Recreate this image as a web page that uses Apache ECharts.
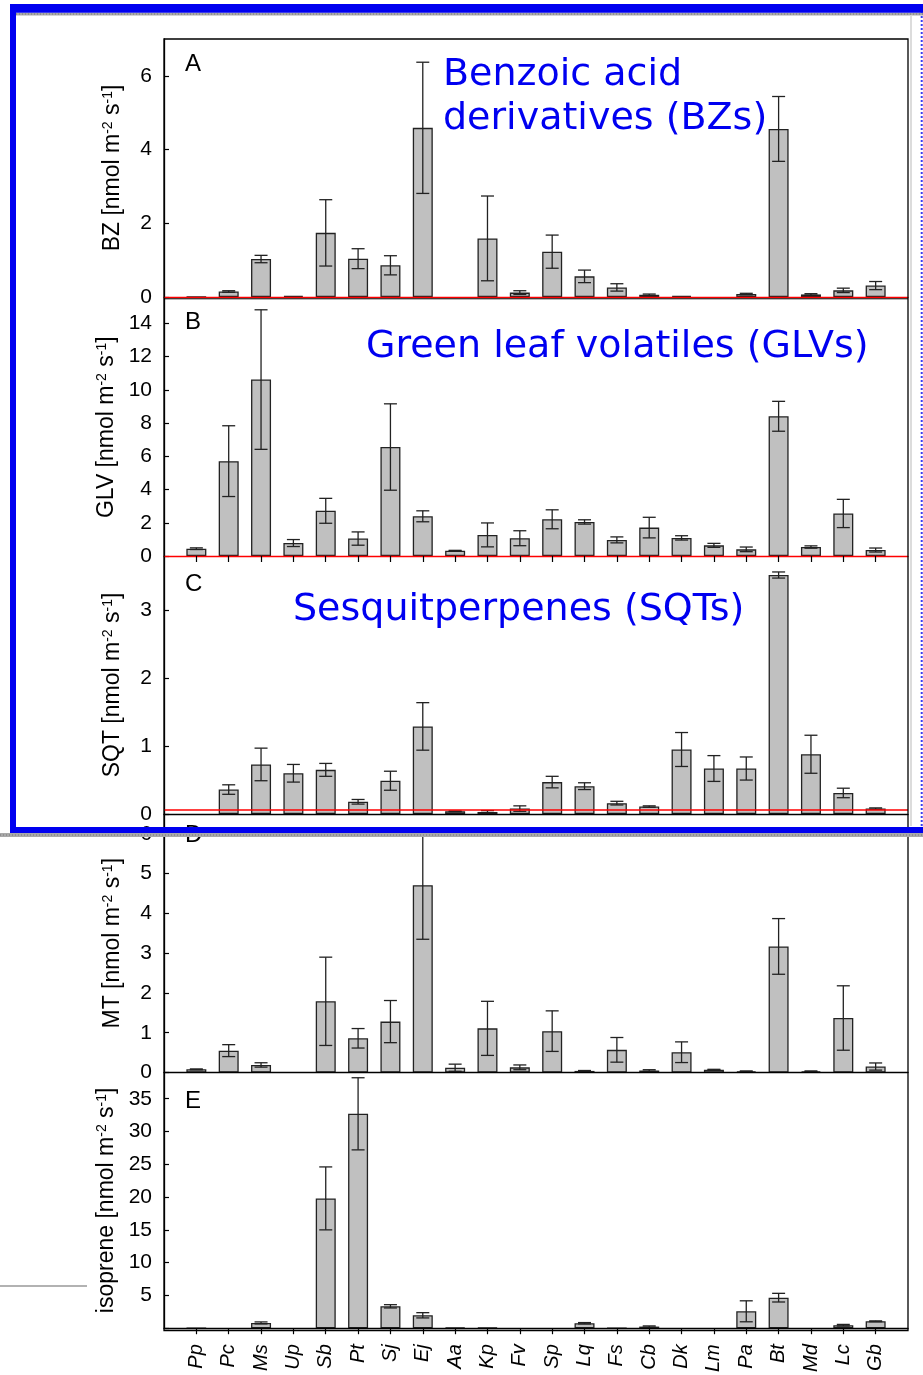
<!DOCTYPE html>
<html>
<head>
<meta charset="utf-8">
<script src="https://cdn.jsdelivr.net/npm/echarts@6/dist/echarts.min.js"></script>
<style>
  html, body { margin: 0; padding: 0; background: #fff; }
  #chart { width: 923px; height: 1375px; }
</style>
</head>
<body>
<div id="chart"></div>
<script>
// Species (x axis)
const categories = ['Pp','Pc','Ms','Up','Sb','Pt','Sj','Ej','Aa','Kp','Fv','Sp','Lq','Fs','Cb','Dk','Lm','Pa','Bt','Md','Lc','Gb'];

// A: benzoic acid derivatives (mean, error)
const bzMean = [0.01,0.15,1.03,0.03,1.74,1.04,0.86,4.59,null,1.59,0.12,1.23,0.56,0.26,0.06,0.03,null,0.08,4.56,0.07,0.18,0.31];
const bzErr  = [0,0.02,0.10,0,0.90,0.27,0.26,1.78,null,1.15,0.05,0.45,0.17,0.10,0.02,0,null,0.02,0.88,0.02,0.06,0.11];

// B: green leaf volatiles
const glvMean = [0.44,5.71,10.62,0.78,2.72,1.05,6.56,2.39,0.32,1.27,1.07,2.21,2.05,0.97,1.71,1.09,0.64,0.40,8.41,0.54,2.56,0.36];
const glvErr  = [0.05,2.13,4.20,0.21,0.75,0.40,2.60,0.33,0.02,0.72,0.45,0.57,0.13,0.18,0.62,0.13,0.12,0.14,0.90,0.07,0.85,0.12];

// C: sesquiterpenes
const sqtMean = [null,0.36,0.73,0.60,0.65,0.18,0.49,1.29,0.04,0.03,0.08,0.47,0.41,0.16,0.11,0.95,0.67,0.67,3.52,0.88,0.31,0.08];
const sqtErr  = [null,0.07,0.24,0.13,0.095,0.034,0.14,0.35,0.005,0.02,0.04,0.085,0.05,0.027,0.01,0.25,0.19,0.17,0.045,0.28,0.07,0.01];
const sqtThreshold = 0.064;

// D: monoterpenes
const mtMean = [0.08,0.55,0.19,null,1.79,0.86,1.28,4.71,0.12,1.11,0.13,1.04,0.04,0.57,0.05,0.51,0.07,0.03,3.17,0.03,1.37,0.15];
const mtErr  = [0.01,0.15,0.055,null,1.11,0.245,0.53,1.36,0.09,0.68,0.06,0.51,0.01,0.31,0.02,0.26,0.01,0.01,0.70,0.01,0.81,0.09];

// E: isoprene
const isoMean = [0.05,null,0.81,null,19.8,32.7,3.34,1.97,0.10,0.10,null,null,0.76,0.05,0.25,null,null,2.58,4.66,null,0.46,1.06];
const isoErr  = [0,null,0.15,null,4.8,5.5,0.25,0.40,0,0,null,null,0.10,0,0.10,null,null,1.6,0.66,null,0.12,0.06];

// Panel definitions (data + axis names)
const panels = [
  { letter: 'A', name: 'BZ',       mean: bzMean,  err: bzErr,  max: 7,    interval: 2 },
  { letter: 'B', name: 'GLV',      mean: glvMean, err: glvErr, max: 15.5, interval: 2 },
  { letter: 'C', name: 'SQT',      mean: sqtMean, err: sqtErr, max: 3.8,  interval: 1, threshold: sqtThreshold },
  { letter: 'D', name: 'MT',       mean: mtMean,  err: mtErr,  max: 6.5,  interval: 1 },
  { letter: 'E', name: 'isoprene', mean: isoMean, err: isoErr, max: 39,   interval: 5 }
];

// Layout of the stacked panels
const layout = [
  { top: 39,     height: 258,   axisColor: '#ff0000', ticks: false, letterY: 64 },
  { top: 298.5,  height: 257.5, axisColor: '#ff0000', ticks: true,  letterY: 322 },
  { top: 556,    height: 258,   axisColor: '#000000', ticks: false, letterY: 584 },
  { top: 814,    height: 258.5, axisColor: '#000000', ticks: false, letterY: 835 },
  { top: 1072.5, height: 258,   axisColor: '#000000', ticks: true,  letterY: 1101, labels: true, hideZero: true }
];

const LEFT = 164, RIGHT = 908;
const FONT = '"Liberation Sans", Arial, sans-serif';
const xCats = [''].concat(categories, ['']);

const grids = [], xAxes = [], yAxes = [], series = [];

panels.forEach((p, k) => {
  const L = layout[k];
  grids.push({ left: LEFT, width: RIGHT - LEFT, top: L.top, height: L.height, containLabel: false });

  xAxes.push({
    type: 'category', gridIndex: k, data: xCats, boundaryGap: false,
    axisLine: { show: true, lineStyle: { color: L.axisColor, width: 1.4 } },
    z: 5,
    axisTick: { show: L.ticks, inside: false, length: 6, lineStyle: { color: '#000', width: 1.2 },
                interval: (i) => i > 0 && i < xCats.length - 1 },
    axisLabel: L.labels ? {
      show: true, interval: 0, rotate: 90, margin: 16,
      fontFamily: FONT, fontSize: 20, fontStyle: 'italic', color: '#000'
    } : { show: false },
    splitLine: { show: false }
  });

  const step = p.interval;
  yAxes.push({
    type: 'value', gridIndex: k, min: 0, max: p.max, interval: step,
    name: p.name + ' [nmol m{sup|-2} s{sup|-1}]',
    nameLocation: 'middle', nameRotate: 90, nameGap: 40,
    nameTextStyle: {
      fontFamily: FONT, fontSize: 23, color: '#000',
      rich: { sup: { fontFamily: FONT, fontSize: 14, color: '#000', verticalAlign: 'top' } }
    },
    axisLine: { show: true, lineStyle: { color: '#000', width: 1.3 } },
    axisTick: { show: true, inside: true, length: 5, lineStyle: { color: '#000', width: 1.2 } },
    axisLabel: {
      margin: 12, fontFamily: FONT, fontSize: 21, color: '#000',
      showMaxLabel: false,
      formatter: (v) => {
        const r = Math.round(v / step) * step;
        if (Math.abs(r - v) > 1e-6) return '';
        if (L.hideZero && v === 0) return '';
        return String(r);
      }
    },
    splitLine: { show: false }
  });

  const barSeries = {
    type: 'bar', xAxisIndex: k, yAxisIndex: k,
    data: [null].concat(p.mean, [null]),
    barWidth: 20,
    itemStyle: { color: '#c0c0c0', borderColor: '#222', borderWidth: 1.3 },
    silent: true, animation: false, z: 2
  };
  if (p.threshold != null) {
    barSeries.markLine = {
      silent: true, symbol: 'none', animation: false,
      label: { show: false },
      lineStyle: { color: '#ff0000', width: 1.5, type: 'solid' },
      data: [{ yAxis: p.threshold }]
    };
  }
  series.push(barSeries);

  const errData = [];
  p.mean.forEach((m, i) => {
    if (m != null && p.err[i]) errData.push([i + 1, m, p.err[i]]);
  });
  series.push({
    type: 'custom', xAxisIndex: k, yAxisIndex: k, data: errData,
    encode: { x: 0, y: 1 }, silent: true, animation: false, z: 4, clip: false,
    renderItem: (params, api) => {
      const i = api.value(0), m = api.value(1), e = api.value(2);
      const hi = api.coord([i, m + e]);
      const lo = api.coord([i, Math.max(m - e, 0)]);
      const hw = 6.5;
      const st = { stroke: '#222', lineWidth: 1.3 };
      return {
        type: 'group',
        children: [
          { type: 'line', shape: { x1: hi[0], y1: hi[1], x2: lo[0], y2: lo[1] }, style: st },
          { type: 'line', shape: { x1: hi[0] - hw, y1: hi[1], x2: hi[0] + hw, y2: hi[1] }, style: st },
          { type: 'line', shape: { x1: lo[0] - hw, y1: lo[1], x2: lo[0] + hw, y2: lo[1] }, style: st }
        ]
      };
    }
  });
});

// Frame, panel letters, group headings and the highlight box
const BLUE = '#0000f0';
const HEAD_FONT = '38px "DejaVu Sans", Verdana, sans-serif';
const graphics = [
  { type: 'rect', z: 10, shape: { x: LEFT, y: 39, width: RIGHT - LEFT, height: 1291.5 },
    style: { fill: 'none', stroke: '#000', lineWidth: 1.3 } },
  { type: 'line', z: 10, shape: { x1: LEFT, y1: 298.8, x2: RIGHT, y2: 298.8 },
    style: { stroke: '#000', lineWidth: 1 } },
  { type: 'line', z: 10, shape: { x1: 0, y1: 1286, x2: 87, y2: 1286 },
    style: { stroke: '#999', lineWidth: 1.5 } },
  // panel letters
  ...panels.map((p, k) => ({
    type: 'text', z: 20, x: 185, y: layout[k].letterY,
    style: { text: p.letter, fill: '#000', font: '24px ' + FONT, verticalAlign: 'middle', align: 'left' }
  })),
  // headings
  { type: 'text', z: 20, x: 443, y: 75,  style: { text: 'Benzoic acid', fill: BLUE, font: HEAD_FONT, verticalAlign: 'middle' } },
  { type: 'text', z: 20, x: 443, y: 119, style: { text: 'derivatives (BZs)', fill: BLUE, font: HEAD_FONT, verticalAlign: 'middle' } },
  { type: 'text', z: 20, x: 366, y: 347, style: { text: 'Green leaf volatiles (GLVs)', fill: BLUE, font: HEAD_FONT, verticalAlign: 'middle' } },
  { type: 'text', z: 20, x: 293, y: 610, style: { text: 'Sesquitperpenes (SQTs)', fill: BLUE, font: HEAD_FONT, verticalAlign: 'middle' } },
  // highlight box
  { type: 'line', z: 30, shape: { x1: 911, y1: 16, x2: 911, y2: 826 }, style: { stroke: '#dcdcdc', lineWidth: 2 } },
  { type: 'line', z: 30, shape: { x1: 921.7, y1: 4, x2: 921.7, y2: 833 }, style: { stroke: '#3c3cf0', lineWidth: 2, lineDash: [2, 2] } },
  { type: 'rect', z: 31, shape: { x: 10, y: 12.7, width: 913, height: 2.8 }, style: { fill: '#a9a9a9' } },
  { type: 'rect', z: 31, shape: { x: 0, y: 833, width: 923, height: 4 }, style: { fill: '#a9a9a9' } },
  { type: 'line', z: 32, shape: { x1: 10, y1: 14, x2: 923, y2: 14 }, style: { stroke: '#777', lineWidth: 1, lineDash: [1, 2] } },
  { type: 'line', z: 32, shape: { x1: 0, y1: 835, x2: 923, y2: 835 }, style: { stroke: '#777', lineWidth: 1, lineDash: [1, 2] } },
  { type: 'rect', z: 33, shape: { x: 10, y: 4, width: 913, height: 8.7 }, style: { fill: BLUE } },
  { type: 'rect', z: 33, shape: { x: 10, y: 4, width: 6, height: 829 }, style: { fill: BLUE } },
  { type: 'rect', z: 33, shape: { x: 10, y: 827, width: 913, height: 6 }, style: { fill: BLUE } }
];

const chart = echarts.init(document.getElementById('chart'), null, { renderer: 'canvas' });
chart.setOption({
  animation: false,
  backgroundColor: '#fff',
  grid: grids,
  xAxis: xAxes,
  yAxis: yAxes,
  series: series,
  graphic: graphics
});
</script>
</body>
</html>
